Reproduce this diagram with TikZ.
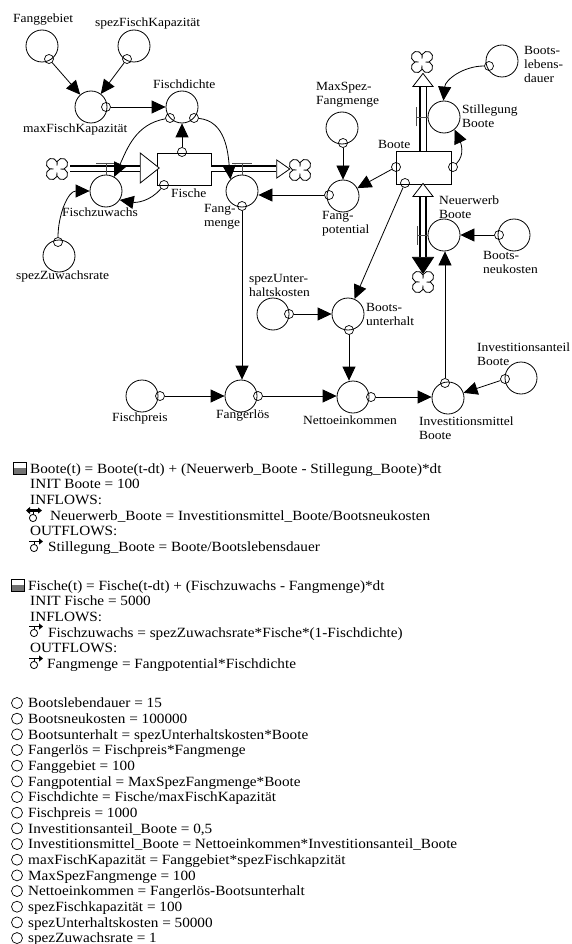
\documentclass[tikz,border=0pt]{standalone}
\usepackage{fontspec}
\setmainfont[FakeStretch=1.08]{Liberation Serif}
\usepackage{tikz}
\usetikzlibrary{shapes.geometric,arrows.meta}
\tikzset{
  puffs/.pic={
    \draw[line width=.8pt] (0,-3.5) arc[start angle=198, end angle=-108, radius=5.47pt]
      arc[start angle=108, end angle=-198, radius=5.47pt]
      arc[start angle=18, end angle=-288, radius=5.47pt]
      arc[start angle=-72, end angle=-378, radius=5.47pt] -- cycle;
  },
  flowicon/.pic={
    \draw[line width=.8pt] (0,0) circle (3.6pt);
    \draw[line width=.8pt] (0,-3.6) -- (0,-6.5);
    \draw[line width=1.6pt,-{Triangle[length=4pt,width=6pt]}] (-5,-6.5) -- (9,-6.5);
  },
  biflowicon/.pic={
    \draw[line width=.8pt] (0,0) circle (3.6pt);
    \draw[line width=.8pt] (0,-3.6) -- (0,-7.5);
    \draw[line width=2.6pt,{Triangle[length=4pt,width=7pt]}-{Triangle[length=4pt,width=6pt]}] (-7,-7.5) -- (9,-7.5);
  }
}

\begin{document}
\begin{tikzpicture}[
  x=1pt, y=-1pt,
  conv/.style={circle, draw, line width=.8pt, minimum size=32pt, inner sep=0pt},
  tailmark/.style={circle, draw, line width=.7pt, minimum size=9pt, inner sep=0pt},
  stockbox/.style={rectangle, draw, line width=.9pt, inner sep=0pt},
  stockicon/.style={stockbox, fill=white, minimum width=13pt, minimum height=12pt, path picture={\fill[black!55] (path picture bounding box.west) rectangle (path picture bounding box.south east);}},
  source/.style={minimum size=26pt, inner sep=0pt},
  flowhead/.style={isosceles triangle, isosceles triangle stretches, draw, line width=.8pt, fill=white, inner sep=0pt},
  pipe/.style={line width=1.5pt, double distance=4pt},
  valve/.style={line width=.6pt, black!70},
  link/.style={-{Triangle[length=14pt,width=13pt]}, line width=.8pt},
  lab/.style={font=\fontsize{12.5}{14}\selectfont, inner sep=0pt, align=left, anchor=west},
  eqn/.style={font=\fontsize{14.1}{15}\selectfont, inner sep=0pt, anchor=base west}
]
\useasboundingbox (0,0) rectangle (571,944);

% converters
\node[conv] (gebiet) at (42,46) {};
\node[conv] (spezKap) at (134,46) {};
\node[conv] (maxKap) at (91,107) {};
\node[conv] (dichte) at (182,107) {};
\node[conv] (zuwachs) at (106,191) {};
\node[conv] (menge) at (242,191) {};
\node[conv] (rate) at (59,256) {};
\node[conv] (maxSpez) at (342,128) {};
\node[conv] (potential) at (343,196) {};
\node[conv] (stille) at (444,117) {};
\node[conv] (neu) at (444,235) {};
\node[conv] (lebens) at (502,61) {};
\node[conv] (neukosten) at (514,235) {};
\node[conv] (unterhKost) at (273,314) {};
\node[conv] (unterhalt) at (348,314) {};
\node[conv] (preis) at (142,396) {};
\node[conv] (erloes) at (241,396) {};
\node[conv] (netto) at (353,397) {};
\node[conv] (mittel) at (448,398) {};
\node[conv] (anteil) at (521,378) {};

% stocks
\node[stockbox, minimum width=54pt, minimum height=32pt] (fische) at (184,169) {};
\node[stockbox, minimum width=55pt, minimum height=33pt] (boote) at (423.5,167.5) {};

% clouds and pipe ends
\node[source] (cloudL) at (57,169) {};
\node[source] (cloudR) at (300,170) {};
\node[source] (cloudT) at (422,62) {};
\node[source] (cloudB) at (423,282) {};
\pic at (cloudL) {puffs};
\pic at (cloudR) {puffs};
\pic at (cloudT) {puffs};
\pic at (cloudB) {puffs};
\node[flowhead, minimum height=19pt, minimum width=30pt] (triFz) at (147.5,168) {};
\node[flowhead, minimum height=13pt, minimum width=18pt] (triFm) at (281.5,169) {};
\node[flowhead, shape border rotate=90, minimum height=13pt, minimum width=20pt] (triSt) at (423,81.5) {};
\node[flowhead, shape border rotate=90, minimum height=13pt, minimum width=20pt] (triNe) at (423,191.5) {};
\node[flowhead, fill=black, shape border rotate=-90, minimum height=16pt, minimum width=21pt] (headNe) at (423,263) {};

\draw[pipe] (cloudL.east) -- (triFz.west |- cloudL);
\draw[pipe] (fische.east |- triFm) -- (triFm.west);
\draw[pipe, double distance=5pt] (boote.north -| triSt) -- (triSt.south);
\draw[pipe, line width=2.2pt] (headNe.north) -- (triNe.south);

% valves
\coordinate (vFz) at (106,163);
\coordinate (vFm) at (242,163);
\coordinate (vSt) at (416,117);
\coordinate (vNe) at (417,235);
\draw[valve] ([xshift=-10pt]vFz) -- ([xshift=10pt]vFz) (vFz) -- (zuwachs);
\draw[valve] ([xshift=-10pt]vFm) -- ([xshift=10pt]vFm) (vFm) -- (menge);
\draw[valve] ([yshift=-9.5pt]vSt) -- ([yshift=9.5pt]vSt) (vSt) -- (stille);
\draw[valve] ([yshift=-9.5pt]vNe) -- ([yshift=9.5pt]vNe) (vNe) -- (neu);

% connector tails
\node[tailmark] (tGebiet) at (49,59) {};
\node[tailmark] (tSpezKap) at (127,59) {};
\node[tailmark] (tMaxKap) at (106,107) {};
\node[tailmark] (tDichteL) at (170,118) {};
\node[tailmark] (tDichteR) at (194,118) {};
\node[tailmark] (tFischeO) at (182,152) {};
\node[tailmark] (tFischeU) at (164,185) {};
\node[tailmark] (tRate) at (58,242) {};
\node[tailmark] (tMenge) at (242,206) {};
\node[tailmark] (tPot) at (329,195) {};
\node[tailmark] (tMaxSpez) at (343,143) {};
\node[tailmark] (tBooteL) at (396,167) {};
\node[tailmark] (tBooteR) at (453,167) {};
\node[tailmark] (tBooteU) at (405,183) {};
\node[tailmark] (tLebens) at (489,66) {};
\node[tailmark] (tNeukosten) at (499,235) {};
\node[tailmark] (tUnterhKost) at (289,314) {};
\node[tailmark] (tUnterhalt) at (349,330) {};
\node[tailmark] (tPreis) at (160,396) {};
\node[tailmark] (tErloes) at (258,396) {};
\node[tailmark] (tNetto) at (371,397) {};
\node[tailmark] (tMittel) at (445,383) {};
\node[tailmark] (tAnteil) at (505,379) {};

% links
\draw[link] (tGebiet) -- (maxKap);
\draw[link] (tSpezKap) -- (maxKap);
\draw[link] (tMaxKap) -- (dichte);
\draw[link] (tFischeO) -- (dichte);
\draw[link] (tDichteL) to[out=190, in=65] (zuwachs.60);
\draw[link] (tDichteR) to[out=-5, in=95] (menge.135);
\draw[link] (tFischeU) to[out=230, in=-10] (zuwachs.-33);
\draw[link] (tRate) to[out=90, in=180] (zuwachs.west);
\draw[link] (tMenge) -- (tMenge |- erloes.north);
\draw[link] (tPot) -- (tPot -| menge.east);
\draw[link] (tMaxSpez) -- (potential);
\draw[link] (tBooteL) -- (potential);
\draw[link] (tBooteR) to[out=45, in=-65] (stille.-50);
\draw[link] (tBooteU) -- (unterhalt);
\draw[link] (tLebens) to[out=180, in=85] (stille.92);
\draw[link] (tNeukosten) -- (neu);
\draw[link] (tMittel) -- (tMittel |- neu.south);
\draw[link] (tUnterhKost) -- (unterhalt);
\draw[link] (tUnterhalt) -- (tUnterhalt |- netto.north);
\draw[link] (tPreis) -- (erloes);
\draw[link] (tErloes) -- (tErloes -| netto.west);
\draw[link] (tNetto) -- (tNetto -| mittel.west);
\draw[link] (tAnteil) -- (mittel);

% labels
\node[lab] (lGebiet) at (13,20) {Fanggebiet};
\node[lab] (lSpezKap) at (95,23) {spezFischKapazität};
\node[lab] (lDichte) at (153,84) {Fischdichte};
\node[lab] (lMaxKap) at (23,129) {maxFischKapazität};
\node[lab] (lFische) at (171,193) {Fische};
\node[lab] (lZuwachs) at (62,212) {Fischzuwachs};
\node[lab] (lMenge) at (204,217) {Fang-\\menge};
\node[lab] (lRate) at (16,276) {spezZuwachsrate};
\node[lab] (lMaxSpez) at (316,95) {MaxSpez-\\Fangmenge};
\node[lab] (lBoote) at (378,144) {Boote};
\node[lab] (lStille) at (462,116) {Stillegung\\Boote};
\node[lab] (lLebens) at (524,64) {Boots-\\lebens-\\dauer};
\node[lab] (lNeu) at (439,207) {Neuerwerb\\Boote};
\node[lab] (lNeukosten) at (483,262) {Boots-\\neukosten};
\node[lab] (lPot) at (322,224) {Fang-\\potential};
\node[lab] (lUnterhKost) at (249,285) {spezUnter-\\haltskosten};
\node[lab] (lUnterhalt) at (366,314) {Boots-\\unterhalt};
\node[lab] (lAnteil) at (477,354) {Investitionsanteil\\Boote};
\node[lab] (lPreis) at (112,418) {Fischpreis};
\node[lab] (lErloes) at (216,416) {Fangerlös};
\node[lab] (lNetto) at (303,420) {Nettoeinkommen};
\node[lab] (lMittel) at (419,428) {Investitionsmittel\\Boote};

% equations
\node[stockicon] (iconBoote) at (20,468) {};
\node[eqn] (eqBoote) at (30,473) {Boote(t) = Boote(t-dt) + (Neuerwerb\_Boote - Stillegung\_Boote)*dt};
\node[eqn] (initBoote) at (30,488.5) {INIT Boote = 100};
\node[eqn] (inBoote) at (30,504) {INFLOWS:};
\pic at (33,518) {biflowicon};
\node[eqn] (eqNeu) at (50,520) {Neuerwerb\_Boote = Investitionsmittel\_Boote/Bootsneukosten};
\node[eqn] (outBoote) at (30,535) {OUTFLOWS:};
\pic at (34,548) {flowicon};
\node[eqn] (eqStille) at (48,551.5) {Stillegung\_Boote = Boote/Bootslebensdauer};

\node[stockicon] (iconFische) at (18,585) {};
\node[eqn] (eqFische) at (28,590) {Fische(t) = Fische(t-dt) + (Fischzuwachs - Fangmenge)*dt};
\node[eqn] (initFische) at (30,605.5) {INIT Fische = 5000};
\node[eqn] (inFische) at (30,621) {INFLOWS:};
\pic at (34,633) {flowicon};
\node[eqn] (eqZuwachs) at (48,637) {Fischzuwachs = spezZuwachsrate*Fische*(1-Fischdichte)};
\node[eqn] (outFische) at (30,652.5) {OUTFLOWS:};
\pic at (34,665) {flowicon};
\node[eqn] (eqMenge) at (47,668.5) {Fangmenge = Fangpotential*Fischdichte};

\foreach \txt [count=\i] in {Bootslebendauer = 15, Bootsneukosten = 100000,
  Bootsunterhalt = spezUnterhaltskosten*Boote, Fangerlös = Fischpreis*Fangmenge,
  Fanggebiet = 100, Fangpotential = MaxSpezFangmenge*Boote,
  Fischdichte = Fische/maxFischKapazität, Fischpreis = 1000,
  {Investitionsanteil\_Boote = 0,5},
  Investitionsmittel\_Boote = Nettoeinkommen*Investitionsanteil\_Boote,
  maxFischKapazität = Fanggebiet*spezFischkapzität, MaxSpezFangmenge = 100,
  Nettoeinkommen = Fangerlös-Bootsunterhalt, spezFischkapazität = 100,
  spezUnterhaltskosten = 50000, spezZuwachsrate = 1} {
  \node[circle, draw, line width=.7pt, minimum size=11pt, inner sep=0pt] (ring\i) at (17,{703+15.67*(\i-1)}) {};
  \node[eqn] (eq\i) at (28,{707.7+15.67*(\i-1)}) {\txt};
}
\end{tikzpicture}
\end{document}
